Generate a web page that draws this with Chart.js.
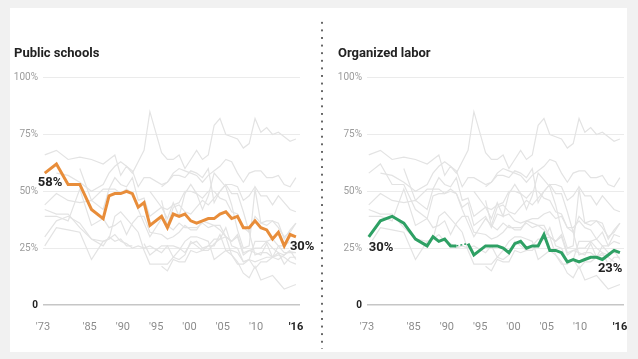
<!DOCTYPE html>
<html>
<head>
<meta charset="utf-8">
<script src="https://cdn.jsdelivr.net/npm/chart.js@4.4.1/dist/chart.umd.min.js"></script>
<style>
  html, body { margin: 0; padding: 0; }
  body { width: 638px; height: 359px; background: #f1f1f1; position: relative; overflow: hidden; }
  #sheet { position: absolute; left: 10px; top: 8px; width: 617px; height: 344px; background: #fff; }
  canvas { position: absolute; top: 8px; }
  #left { left: 10px; }
  #right { left: 334px; }
  #divider { position: absolute; left: 320px; top: 19px; width: 4px; height: 330px;
    background-image: radial-gradient(circle, #666 0.9px, transparent 1.4px);
    background-size: 4px 7.6px; }
</style>
</head>
<body>
<div id="sheet"></div>
<div id="divider"></div>
<canvas id="left" width="308" height="344"></canvas>
<canvas id="right" width="304" height="344"></canvas>
<script>
const FONT = "Roboto, 'Liberation Sans', sans-serif";

// survey years (no poll in 1974 / 1992)
const years = [1973, 1975, 1977, 1979, 1981, 1983, 1984, 1985, 1986, 1987, 1988, 1989, 1990, 1991,
  1993, 1994, 1995, 1996, 1997, 1998, 1999, 2000, 2001, 2002, 2003, 2004, 2005, 2006, 2007, 2008,
  2009, 2010, 2011, 2012, 2013, 2014, 2015, 2016];

// confidence, % "great deal / quite a lot"
const publicSchools = [58, 62, 53, 53, 42, 38, 48, 49, 49, 50, 49, 43, 45, 35,
  39, 34, 40, 39, 40, 37, 36, 37, 38, 38, 40, 41, 38, 39, 34, 34, 37, 34, 33, 29, 32, 26, 31, 30];
const organizedLabor = [30, 37, 39, 36, 29, 26, 30, 28, 29, 26, 26, null, 27, 22,
  26, 26, 26, 25, 23, 27, 28, 25, 26, 26, 31, 24, 24, 23, 19, 20, 19, 20, 21, 21, 20, 22, 24, 23];

// the other institutions, drawn in grey
const church = [66, 68, 64, 65, 64, 62, 64, 66, 57, 61, 59, 52, 56, 56,
  53, 54, 57, 57, 56, 59, 58, 56, 60, 45, 50, 53, 53, 52, 46, 48, 52, 48, 48, 44, 48, 45, 42, 41];
const military = [null, 58, 57, 54, 50, 53, 58, 61, 63, 61, 58, 63, 68, 85,
  67, 64, 64, 66, 60, 64, 68, 64, 66, 79, 82, 75, 74, 73, 69, 71, 82, 76, 78, 75, 76, 74, 72, 73];
const supremeCourt = [44, 49, 46, 45, 46, 42, 51, 56, 53, 52, 56, 46, 47, 39,
  43, 42, 44, 45, 50, 50, 49, 47, 50, 50, 47, 46, 41, 40, 34, 32, 39, 36, 37, 37, 34, 30, 32, 36];
const banks = [null, null, null, 60, 46, 51, 51, 51, 49, 51, 49, 42, 36, 30,
  38, 35, 43, 44, 41, 40, 43, 46, 44, 47, 50, 53, 49, 49, 41, 32, 22, 23, 23, 21, 26, 26, 28, 27];
const congress = [42, 40, 40, 34, 29, 28, 29, 39, 41, 38, 35, 32, 24, 18,
  18, 18, 21, 20, 22, 28, 26, 24, 26, 29, 29, 30, 22, 19, 14, 12, 17, 11, 12, 13, 10, 7, 8, 9];
const newspapers = [39, 39, 37, 51, 35, 38, 34, 35, 37, 31, 36, 39, 39, 32,
  31, 29, 30, 32, 35, 33, 33, 37, 36, 35, 33, 30, 28, 30, 22, 24, 25, 25, 28, 25, 23, 22, 24, 20];
const bigBusiness = [26, 34, 33, 32, 20, 28, 29, 31, 28, 27, 25, 26, 25, 26,
  23, 26, 21, 24, 28, 30, 30, 29, 28, 20, 22, 24, 22, 18, 18, 20, 16, 19, 19, 21, 22, 21, 19, 18];
const presidency = [null, null, null, null, null, null, null, null, null, null, null, null, null, 50,
  43, 38, 45, 39, 49, 53, 49, 42, 48, 58, 55, 52, 44, 33, 25, 26, 51, 36, 35, 37, 36, 29, 33, 36];
const tvNews = [null, null, null, null, null, null, null, null, null, null, null, null, null, null,
  46, 35, 33, 36, 34, 34, 34, 36, 34, 35, 35, 30, 28, 31, 23, 24, 23, 22, 27, 21, 23, 18, 21, 21];
const police = [null, null, null, null, null, null, null, null, null, null, null, null, null, null,
  52, 54, 58, 60, 59, 58, 57, 54, 57, 59, 61, 64, 63, 58, 54, 58, 59, 59, 56, 56, 57, 53, 52, 56];
const criminalJustice = [null, null, null, null, null, null, null, null, null, null, null, null, null, null,
  17, 15, 20, 19, 19, 24, 23, 24, 24, 27, 29, 34, 26, 25, 19, 20, 28, 28, 28, 29, 26, 23, 23, 23];

const commonGrey = [church, military, supremeCourt, banks, congress, newspapers,
  bigBusiness, presidency, tvNews, police, criminalJustice];

// printed axis labels sit on their own even spacing in the original,
// not on the data years, so they get a separate label scale
const tickYears = [1978, 1985, 1990, 1995, 2000, 2005, 2010, 2016];
const tickText = ["'73", "'85", "'90", "'95", "'00", "'05", "'10", "'16"];

function points(vals) {
  return years.map((y, i) => ({ x: y, y: vals[i] }));
}

const gapped = (c, v) => (c.p0.skip || c.p1.skip) ? v : undefined;
const isZero = c => !!(c.tick && c.tick.value === 0);
const isLast = c => c.index === tickText.length - 1;

// bold "58%" style notes at the ends of the highlighted line
function endNotes(vals, notes) {
  return {
    id: 'endNotes',
    afterDatasetsDraw(chart) {
      const ctx = chart.ctx;
      const sx = chart.scales.x, sy = chart.scales.y;
      ctx.save();
      ctx.font = 'bold 13px ' + FONT;
      ctx.textAlign = 'left';
      ctx.textBaseline = 'middle';
      ctx.lineJoin = 'round';
      notes.forEach(n => {
        const v = vals[years.indexOf(n.year)];
        const px = sx.getPixelForValue(n.year) + n.dx;
        const py = sy.getPixelForValue(v) + n.dy;
        ctx.strokeStyle = '#fff';
        ctx.lineWidth = 3;
        ctx.strokeText(v + '%', px, py);
        ctx.fillStyle = '#222';
        ctx.fillText(v + '%', px, py);
      });
      ctx.restore();
    }
  };
}

function makePanel(id, title, main, color, grey, padRight, notes) {
  const datasets = [{
    data: points(main),
    borderColor: color,
    borderWidth: 3,
    pointRadius: 0,
    order: 0,
    spanGaps: true,
    segment: {
      borderDash: c => gapped(c, [2, 2]),
      borderWidth: c => gapped(c, 1.5)
    }
  }];
  grey.forEach(g => datasets.push({
    data: points(g),
    borderColor: '#e3e3e3',
    borderWidth: 1.2,
    pointRadius: 0,
    order: 1,
    spanGaps: false
  }));

  return new Chart(document.getElementById(id), {
    type: 'line',
    data: { datasets: datasets },
    options: {
      responsive: false,
      animation: false,
      layout: { padding: { left: 4, right: padRight, top: 0, bottom: 0 } },
      plugins: {
        legend: { display: false },
        tooltip: { enabled: false },
        title: {
          display: true, text: title, align: 'start', color: '#222',
          font: { family: FONT, size: 13, weight: 'bold' },
          padding: { top: 38, bottom: 16 }
        }
      },
      scales: {
        x: { type: 'linear', min: 1972.7, max: 2016.7, display: false },
        xl: {
          type: 'linear', position: 'bottom', min: 1978, max: 2016.6,
          afterFit: s => { s.height = 47; },
          afterBuildTicks: s => { s.ticks = tickYears.map(v => ({ value: v })); },
          grid: { display: false },
          border: { display: false },
          ticks: {
            autoSkip: false, maxRotation: 0, padding: 8,
            callback: (v, i) => tickText[i],
            color: c => isLast(c) ? '#222' : '#8c8c8c',
            font: c => ({ family: FONT, size: 11, weight: isLast(c) ? 'bold' : 'normal' })
          }
        },
        y: {
          min: 0, max: 100,
          afterFit: s => { s.width = 29; },
          border: { display: false, color: '#ebebeb' },
          grid: {
            drawTicks: false,
            color: c => isZero(c) ? '#c6c6c6' : '#ebebeb',
            lineWidth: c => isZero(c) ? 1.5 : 1
          },
          ticks: {
            stepSize: 25, padding: 5,
            callback: v => v === 0 ? '0' : v + '%',
            color: c => isZero(c) ? '#222' : '#9c9c9c',
            font: c => ({ family: FONT, size: 10, weight: isZero(c) ? 'bold' : 'normal' })
          }
        }
      }
    },
    plugins: [endNotes(main, notes)]
  });
}

makePanel('left', 'Public schools', publicSchools, '#e88d3a',
  [organizedLabor].concat(commonGrey), 18,
  [{ year: 1973, dx: -7, dy: 10 }, { year: 2016, dx: -6, dy: 10 }]);

makePanel('right', 'Organized labor', organizedLabor, '#2ea064',
  [publicSchools].concat(commonGrey), 14,
  [{ year: 1973, dx: 0, dy: 11 }, { year: 2016, dx: -22, dy: 16 }]);
</script>
</body>
</html>
